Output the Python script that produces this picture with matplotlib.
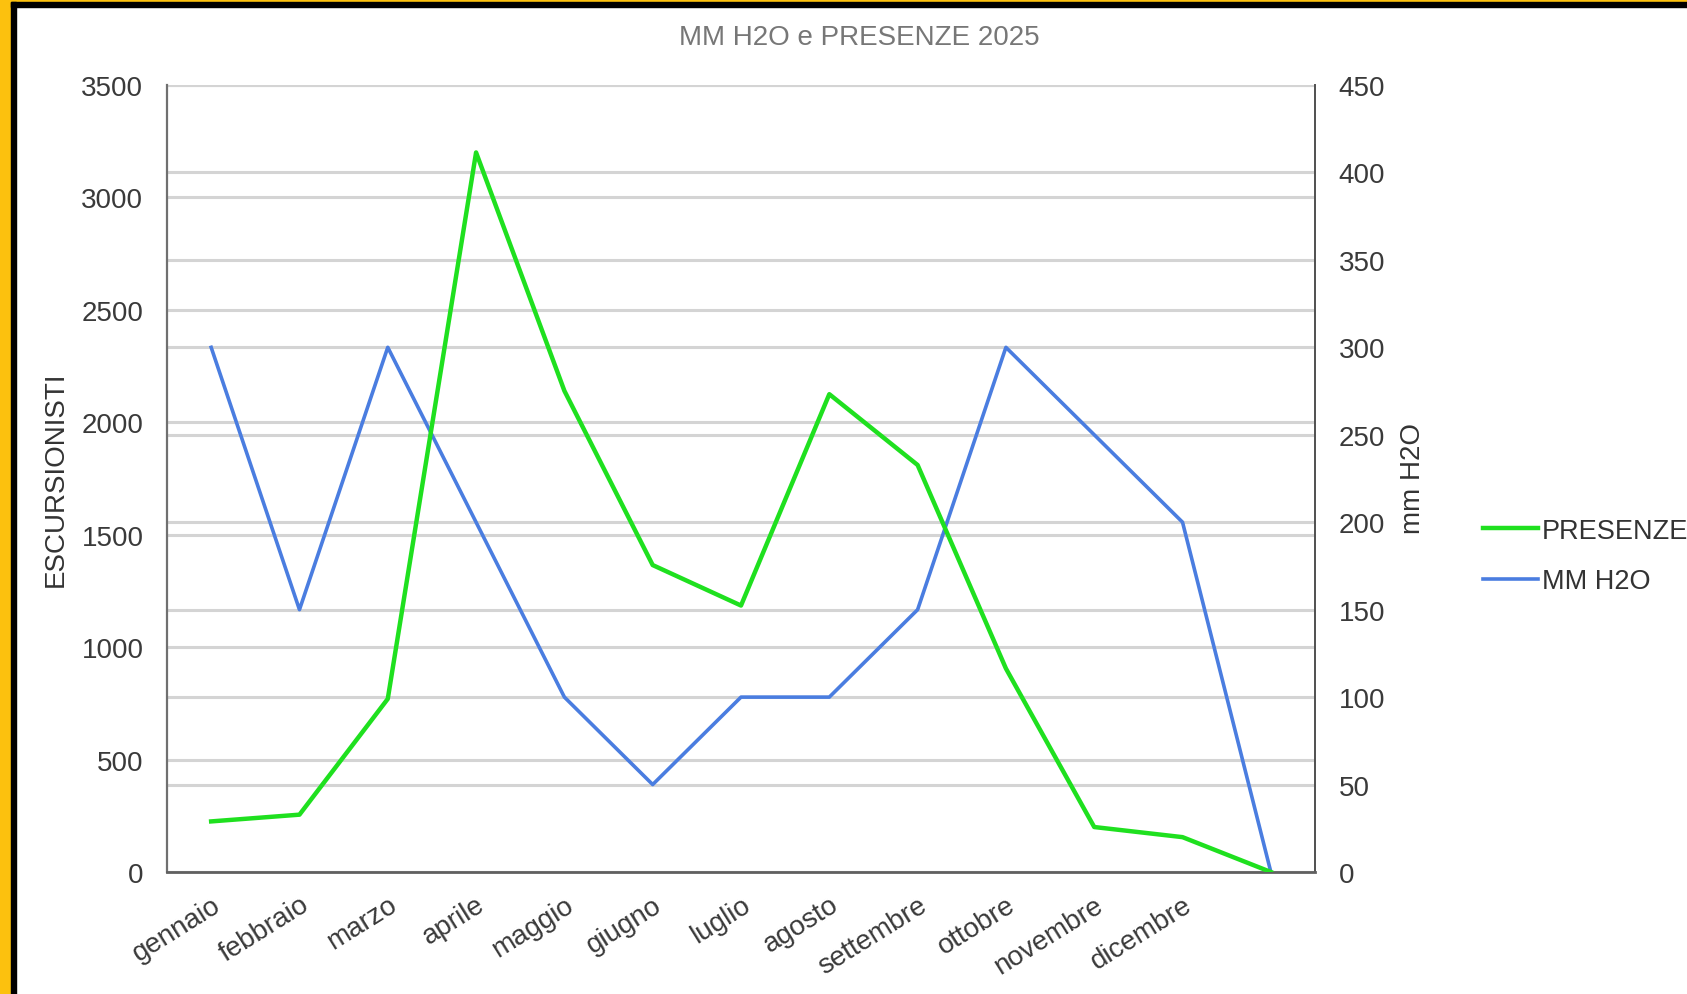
import matplotlib
matplotlib.use('Agg')
import matplotlib.pyplot as plt
import matplotlib.transforms as mtransforms
from matplotlib.patches import Rectangle

plt.rcParams['font.family'] = ['Liberation Sans', 'DejaVu Sans']

# dati
mesi = ['gennaio', 'febbraio', 'marzo', 'aprile', 'maggio', 'giugno', 'luglio',
        'agosto', 'settembre', 'ottobre', 'novembre', 'dicembre', '']
presenze = [225, 255, 770, 3200, 2140, 1365, 1185, 2125, 1810, 905, 200, 155, 0]
mm_h2o = [300, 150, 300, 200, 100, 50, 100, 100, 150, 300, 250, 200, 0]
tick_sx = [0, 500, 1000, 1500, 2000, 2500, 3000, 3500]
tick_dx = [0, 50, 100, 150, 200, 250, 300, 350, 400, 450]

verde = '#1fe01f'
blu = '#4a7de0'
grigio_grid = '#d4d4d4'

W, H = 1687, 995
fig = plt.figure(figsize=(W / 100, H / 100), dpi=100)
fig.patch.set_facecolor('white')

ax = fig.add_axes([167 / W, 1 - 873 / H, (1315 - 167) / W, (873 - 86) / H])
ax2 = ax.twinx()
ax.set_zorder(2)
ax.patch.set_visible(False)

x = list(range(len(mesi)))

# asse destro: mm H2O
ax2.set_ylim(0, 450)
ax2.set_yticks(tick_dx)
ax2.yaxis.grid(True, color=grigio_grid, linewidth=2.2, zorder=0)
ax2.set_axisbelow(True)
# griglia dell'asse sinistro disegnata sotto le linee
bt = mtransforms.blended_transform_factory(ax2.transAxes, ax.transData)
for v in tick_sx:
    ax2.plot([0, 1], [v, v], transform=bt, color=grigio_grid, linewidth=2.2, zorder=0.5)
l2, = ax2.plot(x, mm_h2o, color=blu, linewidth=2.6, zorder=3, label='MM H2O')

# asse sinistro: presenze
ax.set_ylim(0, 3500)
ax.set_yticks(tick_sx)
l1, = ax.plot(x, presenze, color=verde, linewidth=3.2, zorder=3, label='PRESENZE')

ax.set_xlim(-0.5, len(mesi) - 0.5)
ax.set_xticks(x)
ax.set_xticklabels(mesi, rotation=32, ha='right', va='top', rotation_mode='anchor')

for a in (ax, ax2):
    for s in a.spines.values():
        s.set_visible(False)
ax.spines['left'].set_visible(True)
ax.spines['left'].set_color('#707070')
ax.spines['left'].set_linewidth(1.6)
ax.spines['bottom'].set_visible(True)
ax.spines['bottom'].set_color('#606060')
ax.spines['bottom'].set_linewidth(2.0)
ax2.spines['right'].set_visible(True)
ax2.spines['right'].set_color('#505050')
ax2.spines['right'].set_linewidth(1.4)

ax.tick_params(axis='y', length=0, pad=17, labelsize=20, labelcolor='#3a3a3a')
ax.tick_params(axis='x', length=0, pad=14, labelsize=20, labelcolor='#3a3a3a')
ax2.tick_params(axis='y', length=0, pad=17, labelsize=20, labelcolor='#3a3a3a')

# titoli
fig.text(859 / W, 1 - 38 / H, 'MM H2O e PRESENZE 2025', ha='center', va='center',
         fontsize=20, color='#777777')
fig.text(56 / W, 1 - 479 / H, 'ESCURSIONISTI', rotation=90, ha='center', va='center',
         fontsize=20, color='#333333')
fig.text(1413 / W, 1 - 479 / H, 'mm H2O', rotation=90, ha='center', va='center',
         fontsize=20, color='#333333')

fig.legend(handles=[l1, l2], loc='center left', bbox_to_anchor=(1459 / W, 1 - 557 / H),
           frameon=False, fontsize=19.5, handlelength=2.0, handletextpad=0.15,
           labelspacing=0.9, labelcolor='#333333')

# cornice
arancio = '#fcc10e'
fig.patches.append(Rectangle((0, 0), 11 / W, 1, transform=fig.transFigure,
                             color=arancio, zorder=10))
fig.patches.append(Rectangle((0, 1 - 3 / H), 1, 3 / H, transform=fig.transFigure,
                             color=arancio, zorder=10))
fig.patches.append(Rectangle((11 / W, 0), 5 / W, 1 - 3 / H, transform=fig.transFigure,
                             color='black', zorder=10))
fig.patches.append(Rectangle((11 / W, 1 - 8 / H), 1, 5 / H, transform=fig.transFigure,
                             color='black', zorder=10))

fig.savefig('out.png', dpi=100)
